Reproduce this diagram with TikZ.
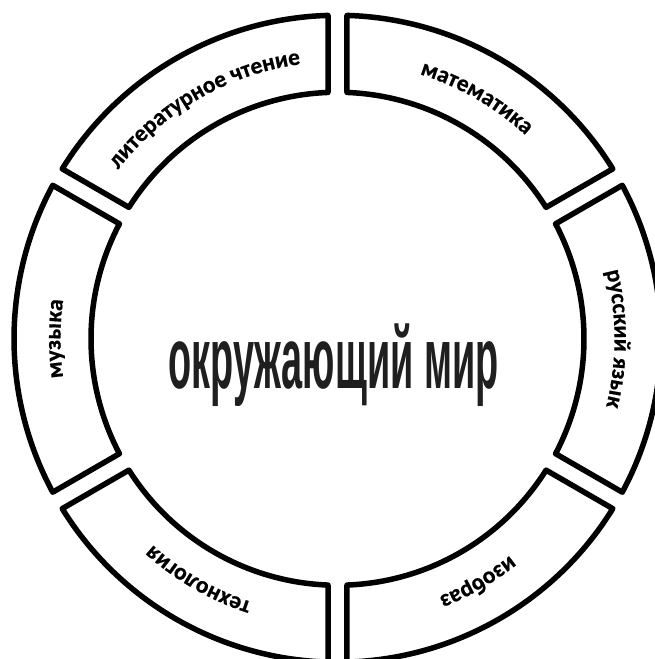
\documentclass[tikz,border=0pt]{standalone}
\usepackage{fontspec}
\usepackage{graphicx}
\usetikzlibrary{decorations.text}
\newfontfamily\lblfont{Carlito}[BoldFeatures={FakeBold=0.6}]
\newfontfamily\ctrfont{Liberation Sans}
\newcommand{\lblfmt}{\lblfont\bfseries\fontsize{23.5}{23.5}\selectfont}
\begin{document}
\begin{tikzpicture}[x=1pt,y=1pt,
  segbox/.style={draw=black, line width=5.5pt, line join=round, fill=white},
  ctrtext/.style={font=\ctrfont\bfseries\fontsize{87}{87}\selectfont, text=black!88, inner sep=0pt, anchor=base}]
\pgfmathsetmacro{\Ro}{323.5}
\pgfmathsetmacro{\Ri}{246.5}
\pgfmathsetmacro{\Rt}{277}
\pgfmathsetmacro{\ao}{asin(9.5/\Ro)}
\pgfmathsetmacro{\ai}{asin(9.5/\Ri)}
\fill[white] (-337.5,-320.25) rectangle (317.5,338.75);
\clip (-337.5,-320.25) rectangle (317.5,338.75);
\useasboundingbox (-337.5,-320.25) rectangle (317.5,338.75);
% segments
\foreach \t in {120,60,0,-60,-120,180}{
  \draw[segbox] ({\t+30-\ao}:\Ro) arc[start angle={\t+30-\ao}, end angle={\t-30+\ao}, radius=\Ro]
    -- ({\t-30+\ai}:\Ri) arc[start angle={\t-30+\ai}, end angle={\t+30-\ai}, radius=\Ri] -- cycle;
}
% labels along arcs
\foreach \t/\s in {120/литературное чтение, 60/математика, 0/русский язык, -60/изобраз, -120/технология, 180/музыка}{
  \path[decorate, decoration={text along path, text={|\lblfmt|\s}, text align=center}]
    ({\t+30}:\Rt) arc[start angle={\t+30}, end angle={\t-30}, radius=\Rt];
}
\node[ctrtext] (ctr) at (-4,-50) {\scalebox{0.435}[1]{окружающий мир}};
\end{tikzpicture}
\end{document}
